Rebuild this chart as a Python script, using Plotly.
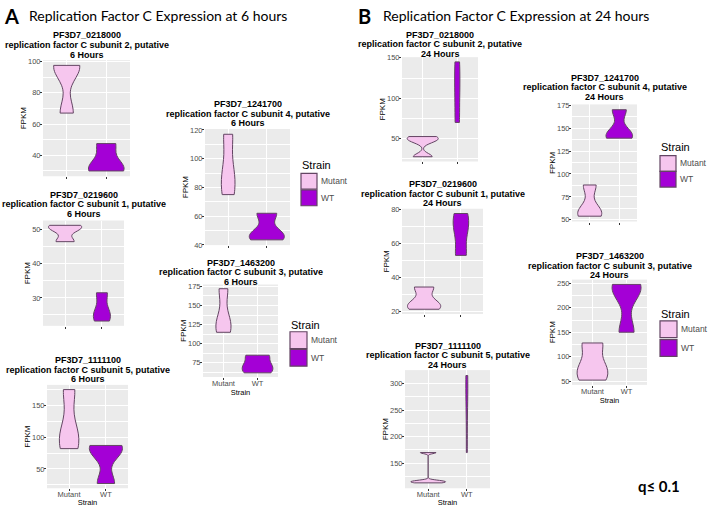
import numpy as np
import plotly.graph_objects as go

W, H = 708, 507

STRAINS = ["Mutant", "WT"]

GENE_IDS = ["PF3D7_0218000", "PF3D7_0219600", "PF3D7_1111100",
            "PF3D7_1241700", "PF3D7_1463200"]
GENE_DESC = ["replication factor C subunit 2, putative",
             "replication factor C subunit 1, putative",
             "replication factor C subunit 5, putative",
             "replication factor C subunit 4, putative",
             "replication factor C subunit 3, putative"]

# FPKM replicate values - 6 hours
h6_0218000_mutant = [67, 96, 97.5]
h6_0218000_wt = [30, 32.5, 47.5]
h6_0219600_mutant = [46.5, 50.3, 51.3]
h6_0219600_wt = [23.2, 26, 31.5]
h6_1111100_mutant = [82, 108, 175]
h6_1111100_wt = [27, 78, 87]
h6_1241700_mutant = [75, 90, 117]
h6_1241700_wt = [43.5, 48, 62]
h6_1463200_mutant = [115, 130, 172]
h6_1463200_wt = [62, 72, 85]

# FPKM replicate values - 24 hours
h24_0218000_mutant = [27.5, 47.5, 52.5]
h24_0218000_wt = [70, 110, 145]
h24_0219600_mutant = [21.5, 25, 34.5]
h24_0219600_wt = [53, 68, 77.5]
h24_1111100_mutant = [113, 115, 117, 170]
h24_1111100_wt = [170, 250, 300, 315]
h24_1241700_mutant = [54, 60, 88]
h24_1241700_wt = [139, 144, 170]
h24_1463200_mutant = [52, 80, 128]
h24_1463200_wt = [150, 235, 248]

PANELS = [
    (0, "6 Hours", h6_0218000_mutant, h6_0218000_wt),
    (1, "6 Hours", h6_0219600_mutant, h6_0219600_wt),
    (2, "6 Hours", h6_1111100_mutant, h6_1111100_wt),
    (3, "6 Hours", h6_1241700_mutant, h6_1241700_wt),
    (4, "6 Hours", h6_1463200_mutant, h6_1463200_wt),
    (0, "24 Hours", h24_0218000_mutant, h24_0218000_wt),
    (1, "24 Hours", h24_0219600_mutant, h24_0219600_wt),
    (2, "24 Hours", h24_1111100_mutant, h24_1111100_wt),
    (3, "24 Hours", h24_1241700_mutant, h24_1241700_wt),
    (4, "24 Hours", h24_1463200_mutant, h24_1463200_wt),
]

# ---- layout / style (pixels) ----
# panel box x0, x1, y0, y1 ; first title line y ; tick step ; x labels shown
LAYOUT = [
    ((43, 130, 57, 175), 32, 20, False),
    ((43, 124, 220, 327), 194, 10, False),
    ((47, 128, 387, 492), 362, 50, True),
    ((205, 290, 127, 245), 102, 20, False),
    ((203, 278, 285, 379), 263, 25, True),
    ((402, 478, 54, 160), 31, 50, False),
    ((402, 483, 208, 315), 183, 20, False),
    ((405, 490, 372, 492), 347, 50, True),
    ((572, 637, 102, 221), 75, 25, False),
    ((572, 647, 280, 387), 256, 50, True),
]
# kernel bandwidth overrides (panel, strain index)
BW_OVERRIDE = {(7, 0): 2.0, (5, 0): 4.0, (0, 1): 6.0}

# legend boxes: title x, title y, key x0, key size, mutant key y0, wt key y0
LEGENDS = [
    (301, 164, 301, 16, 172, 189),
    (290, 326, 290, 17, 333, 351),
    (660, 145, 660, 16, 154, 170),
    (660, 315, 660, 17, 322, 341),
]

MUT_FILL = "#F6C6EE"
WT_FILL = "#A400D6"
OUTLINE = "#634563"
TXT_GREY = "#4D4D4D"
FONT = "Liberation Sans"


def nrd0(v):
    v = np.asarray(v, float)
    n = len(v)
    sd = v.std(ddof=1)
    q1, q3 = np.percentile(v, [25, 75])
    iqr = (q3 - q1) / 1.34
    lo = min(sd, iqr) if iqr > 0 else sd
    return 0.9 * lo * n ** -0.2


def kde_peak(v, bw):
    v = np.asarray(v, float)
    g = np.linspace(v.min(), v.max(), 512)
    d = np.exp(-0.5 * ((g[:, None] - v[None, :]) / bw) ** 2).sum(1)
    return d.max() / (len(v) * bw * np.sqrt(2 * np.pi))


def px(x):
    return x / W


def py(y):
    return 1 - y / H


fig = go.Figure()
annotations = []
shapes = []

for i, ((gi, tlabel, mut, wt), (box, ty, dtick, xlab)) in enumerate(zip(PANELS, LAYOUT)):
    sfx = "" if i == 0 else str(i + 1)
    x0, x1, y0, y1 = box
    allv = list(mut) + list(wt)
    lo, hi = min(allv), max(allv)
    pad = 0.05 * (hi - lo)
    groups = (("Mutant", mut, MUT_FILL), ("WT", wt, WT_FILL))
    bws = [BW_OVERRIDE.get((i, k), nrd0(g[1])) for k, g in enumerate(groups)]
    peaks = [kde_peak(g[1], b) for g, b in zip(groups, bws)]
    top = max(peaks)
    for k, (strain, vals, col) in enumerate(groups):
        fig.add_trace(go.Violin(
            x=[strain] * len(vals), y=vals, name=strain,
            xaxis="x" + sfx, yaxis="y" + sfx,
            fillcolor=col, line=dict(color=OUTLINE, width=1),
            points=False, spanmode="hard", scalemode="width",
            scalegroup="g%d_%d" % (i, k), width=0.9 * peaks[k] / top,
            bandwidth=bws[k], showlegend=False, hoverinfo="y",
        ))
    fig.update_layout(**{
        "xaxis" + sfx: dict(
            domain=[px(x0), px(x1)], anchor="y" + sfx, type="category",
            categoryorder="array", categoryarray=STRAINS, range=[-0.6, 1.6],
            showgrid=True, gridcolor="white", gridwidth=1, zeroline=False,
            ticks="outside", ticklen=2, tickwidth=0.6, tickcolor="#333333",
            showticklabels=xlab, ticklabelstandoff=-3,
            tickfont=dict(family=FONT, size=7.5, color=TXT_GREY),
            title=dict(text="Strain" if xlab else "",
                       font=dict(family=FONT, size=7.5, color="black"), standoff=0),
            fixedrange=True,
        ),
        "yaxis" + sfx: dict(
            domain=[py(y1), py(y0)], anchor="x" + sfx,
            range=[lo - pad, hi + pad], dtick=dtick, tick0=0,
            showgrid=True, gridcolor="white", gridwidth=1, zeroline=False,
            minor=dict(dtick=dtick / 2, showgrid=True, gridcolor="white", gridwidth=0.5),
            ticks="outside", ticklen=2, tickwidth=0.6, tickcolor="#333333",
            ticklabelstandoff=-2,
            tickfont=dict(family=FONT, size=7.5, color=TXT_GREY),
            title=dict(text="FPKM", font=dict(family=FONT, size=8, color="black"), standoff=0),
            fixedrange=True,
        ),
    })
    cx = (x0 + x1) / 2
    for j, line in enumerate((GENE_IDS[gi], GENE_DESC[gi], tlabel)):
        annotations.append(dict(
            text="<b>%s</b>" % line, x=px(cx), y=py(ty + j * 9.7), xref="paper", yref="paper",
            xanchor="center", yanchor="middle", showarrow=False,
            font=dict(family=FONT, size=9, color="black"),
        ))

for (tx, tyy, kx, ks, ym, yw) in LEGENDS:
    annotations.append(dict(text="Strain", x=px(tx - 1), y=py(tyy), xref="paper", yref="paper",
                            xanchor="left", yanchor="middle", showarrow=False,
                            font=dict(family=FONT, size=11, color="black")))
    for label, ky, col in (("Mutant", ym, MUT_FILL), ("WT", yw, WT_FILL)):
        shapes.append(dict(type="rect", xref="paper", yref="paper",
                           x0=px(kx), x1=px(kx + ks), y0=py(ky + ks), y1=py(ky),
                           fillcolor=col, line=dict(color=OUTLINE, width=1.2)))
        annotations.append(dict(text=label, x=px(kx + ks + 2), y=py(ky + ks / 2), xref="paper", yref="paper",
                                xanchor="left", yanchor="middle", showarrow=False,
                                font=dict(family=FONT, size=8.5, color=TXT_GREY)))

HEAD = "Lato"
heads = [
    ("<b>A</b>", 2, 12, 20),
    ("Replication Factor C Expression at 6 hours", 27, 12, 14),
    ("<b>B</b>", 356, 12, 20),
    ("Replication Factor C Expression at 24 hours", 381, 12, 14),
    ("<b>q≤ 0.1</b>", 636, 490, 15),
]
for text, hx, hy, fs in heads:
    annotations.append(dict(text=text, x=px(hx), y=py(hy), xref="paper", yref="paper",
                            xanchor="left", yanchor="middle", showarrow=False,
                            font=dict(family=HEAD, size=fs, color="black")))

fig.update_layout(
    width=W, height=H, margin=dict(l=0, r=0, t=0, b=0),
    paper_bgcolor="white", plot_bgcolor="#EBEBEB",
    violinmode="overlay", showlegend=False,
    annotations=annotations, shapes=shapes,
)

fig.write_html("out.html", config={"displayModeBar": False},
               post_script="document.body.style.margin='0px';")
